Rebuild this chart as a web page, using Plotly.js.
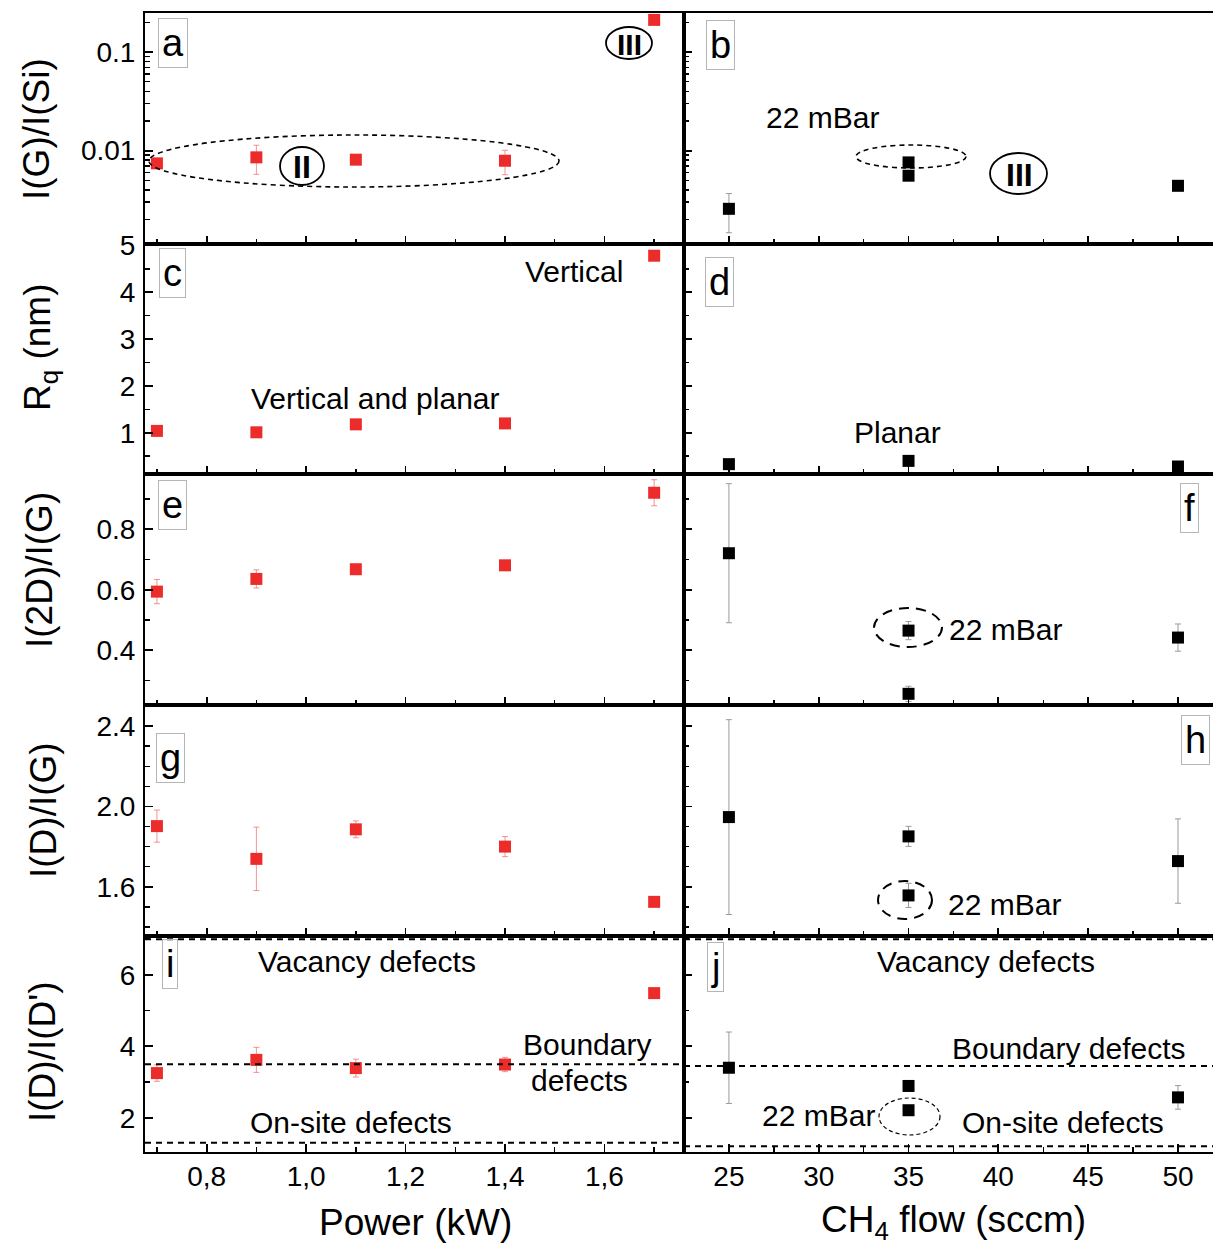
<!DOCTYPE html>
<html><head><meta charset="utf-8">
<script src="https://cdn.plot.ly/plotly-3.0.1.min.js"></script>
<style>html,body{margin:0;padding:0;background:#fff;} #chart{width:1213px;height:1248px;}</style>
</head><body><div id="chart"></div>
<script>
// ---------------- data ----------------
const power = [0.7, 0.9, 1.1, 1.4, 1.7];
const flow = [25, 35, 50];
const flow22 = [35];

// (a) / (b)  I(G)/I(Si)
const igisiPower = [0.00743, 0.00855, 0.0081, 0.0079, 0.212];
const igisiPowerErr = [0, 0.0028, 0, 0.0022, 0];
const igisiFlow = [0.00257, 0.00557, 0.0044];
const igisiFlowErr = [0.0011, 0.0003, 0];
const igisiFlow22 = [0.0076];

// (c) / (d)  Rq (nm)
const rqPower = [1.04, 1.01, 1.18, 1.20, 4.78];
const rqFlow = [0.33, 0.40, 0.28];
const rqFlowErr = [0.05, 0.05, 0.04];

// (e) / (f)  I(2D)/I(G)
const i2dPower = [0.594, 0.636, 0.668, 0.681, 0.921];
const i2dPowerErr = [0.04, 0.03, 0.015, 0.015, 0.043];
const i2dFlow = [0.721, 0.256, 0.442];
const i2dFlowErr = [0.23, 0.025, 0.045];
const i2dFlow22 = [0.465];
const i2dFlow22Err = [0.03];

// (g) / (h)  I(D)/I(G)
const idgPower = [1.902, 1.739, 1.886, 1.80, 1.525];
const idgPowerErr = [0.08, 0.158, 0.042, 0.05, 0.01];
const idgFlow = [1.947, 1.851, 1.728];
const idgFlowErr = [0.485, 0.05, 0.21];
const idgFlow22 = [1.557];
const idgFlow22Err = [0.06];

// (i) / (j)  I(D)/I(D')
const iddPower = [3.25, 3.62, 3.39, 3.49, 5.49];
const iddPowerErr = [0.23, 0.35, 0.25, 0.2, 0.05];
const iddFlow = [3.40, 2.89, 2.57];
const iddFlowErr = [1.0, 0.15, 0.33];
const iddFlow22 = [2.21];
const iddFlow22Err = [0.1];

// defect-type reference levels
const defectLevelsPower = [7.0, 3.5, 1.3];
const defectLevelsFlow = [7.0, 3.45, 1.2];

// tick labels
const powerTickVals = [0.8, 1.0, 1.2, 1.4, 1.6];
const powerTickText = ['0,8', '1,0', '1,2', '1,4', '1,6'];
const flowTickVals = [25, 30, 35, 40, 45, 50];
const flowTickText = ['25', '30', '35', '40', '45', '50'];
const logTickVals = [0.01, 0.1];
const logTickText = ['0.01', '0.1'];
const rqTickVals = [1, 2, 3, 4, 5];
const i2dTickVals = [0.4, 0.6, 0.8];
const idgTickVals = [1.6, 2.0, 2.4];
const iddTickVals = [2, 4, 6];

// ---------------- style ----------------
const FONT = 'Liberation Sans, Arial, Helvetica, sans-serif';
const RED = '#ec2b2b';
const redErr = {color: 'rgba(240,110,110,0.75)', thickness: 1, width: 3};
const blkErr = {color: '#9a9a9a', thickness: 1, width: 3};

const W = 1213, H = 1248, ML = 145, MR = 0, MT = 13, MB = 96;
const PW = W - ML - MR, PH = H - MT - MB;
const px = v => (v - ML) / PW;
const py = v => (H - MB - v) / PH;

const splitX = px(684);
const rowsPx = [[13, 244], [244, 474], [474, 705], [705, 936], [936, 1152]];
const rowDom = rowsPx.map(r => [py(r[1]), py(r[0])]);

function sq(x, y, err, color, ax, eopt) {
  const t = {x: x, y: y, xaxis: 'x' + (ax === 1 ? '' : ax), yaxis: 'y' + (ax === 1 ? '' : ax),
    type: 'scatter', mode: 'markers', showlegend: false, hoverinfo: 'skip',
    marker: {symbol: 'square', size: 12, color: color, line: {width: 0}}};
  if (err) t.error_y = Object.assign({type: 'data', array: err, visible: true}, eopt);
  return t;
}

const data = [
  sq(power, igisiPower, igisiPowerErr, RED, 1, redErr),
  sq(flow, igisiFlow, igisiFlowErr, '#000', 2, blkErr),
  sq(flow22, igisiFlow22, null, '#000', 2),
  sq(power, rqPower, null, RED, 3),
  sq(flow, rqFlow, rqFlowErr, '#000', 4, blkErr),
  sq(power, i2dPower, i2dPowerErr, RED, 5, redErr),
  sq(flow, i2dFlow, i2dFlowErr, '#000', 6, blkErr),
  sq(flow22, i2dFlow22, i2dFlow22Err, '#000', 6, blkErr),
  sq(power, idgPower, idgPowerErr, RED, 7, redErr),
  sq(flow, idgFlow, idgFlowErr, '#000', 8, blkErr),
  sq(flow22, idgFlow22, idgFlow22Err, '#000', 8, blkErr),
  sq(power, iddPower, iddPowerErr, RED, 9, redErr),
  sq(flow, iddFlow, iddFlowErr, '#000', 10, blkErr),
  sq(flow22, iddFlow22, iddFlow22Err, '#000', 10, blkErr)
];

const tickFont = {family: FONT, size: 28, color: '#000'};
function baseAxis() {
  return {showline: true, linewidth: 2, linecolor: '#000', mirror: true, ticks: 'inside',
    ticklen: 8, tickwidth: 1.8, tickcolor: '#000', showgrid: false, zeroline: false,
    tickfont: tickFont, fixedrange: true};
}

const layout = {width: W, height: H, margin: {l: ML, r: MR, t: MT, b: MB},
  paper_bgcolor: '#fff', plot_bgcolor: '#fff', showlegend: false, font: {family: FONT, color: '#000'},
  shapes: [], annotations: []};

const yDefs = [
  {type: 'log', range: [Math.log10(0.00113), Math.log10(0.249)], tickvals: logTickVals, ticktext: logTickText, minorLog: true},
  {range: [0.12, 5.03], tickvals: rqTickVals, ticktext: rqTickVals.map(String), minor: 0.5},
  {range: [0.219, 0.983], tickvals: i2dTickVals, ticktext: i2dTickVals.map(v => v.toFixed(1)), minor: 0.1},
  {range: [1.355, 2.505], tickvals: idgTickVals, ticktext: idgTickVals.map(v => v.toFixed(1)), minor: 0.1},
  {range: [1.04, 7.09], tickvals: iddTickVals, ticktext: iddTickVals.map(String), minor: 1}
];

const logMinor = [];
[0.001, 0.01, 0.1].forEach(d => { for (let m = 2; m <= 9; m++) logMinor.push(d * m); });

for (let r = 0; r < 5; r++) {
  for (let c = 0; c < 2; c++) {
    const k = r * 2 + c + 1;
    const xa = baseAxis();
    xa.domain = c === 0 ? [0, splitX] : [splitX, 1];
    xa.anchor = 'y' + (k === 1 ? '' : k);
    if (c === 0) {
      xa.range = [0.676, 1.760];
      xa.tickmode = 'array'; xa.tickvals = powerTickVals; xa.ticktext = powerTickText;
      xa.minor = {dtick: 0.1, tick0: 0, ticks: 'inside', ticklen: 5, tickwidth: 1.5, tickcolor: '#000'};
    } else {
      xa.range = [22.5, 51.95];
      xa.tickmode = 'array'; xa.tickvals = flowTickVals; xa.ticktext = flowTickText;
      xa.minor = {dtick: 2.5, tick0: 0, ticks: 'inside', ticklen: 5, tickwidth: 1.5, tickcolor: '#000'};
    }
    xa.showticklabels = (r === 4);
    xa.ticklabelstandoff = -2;
    layout['xaxis' + (k === 1 ? '' : k)] = xa;

    const yd = yDefs[r];
    const ya = baseAxis();
    ya.domain = rowDom[r];
    ya.anchor = 'x' + (k === 1 ? '' : k);
    if (yd.type) ya.type = yd.type;
    ya.range = yd.range;
    ya.tickmode = 'array'; ya.tickvals = yd.tickvals; ya.ticktext = yd.ticktext;
    ya.minor = yd.minorLog
      ? {tickmode: 'array', tickvals: logMinor, ticks: 'inside', ticklen: 5, tickwidth: 1.5, tickcolor: '#000'}
      : {dtick: yd.minor, tick0: 0, ticks: 'inside', ticklen: 5, tickwidth: 1.5, tickcolor: '#000'};
    ya.showticklabels = (c === 0);
    ya.ticklabelstandoff = 2;
    layout['yaxis' + (k === 1 ? '' : k)] = ya;
  }
}

// dashed defect-level lines in (i) and (j)
defectLevelsPower.forEach(v => layout.shapes.push({type: 'line', xref: 'x9 domain', yref: 'y9',
  x0: 0, x1: 1, y0: v, y1: v, line: {color: '#000', width: 2, dash: '6px,5px'}}));
defectLevelsFlow.forEach(v => layout.shapes.push({type: 'line', xref: 'x10 domain', yref: 'y10',
  x0: 0, x1: 1, y0: v, y1: v, line: {color: '#000', width: 2, dash: '6px,5px'}}));

// decorative ellipses (paper coords)
function ell(x0, y0, x1, y1, dash, w) {
  layout.shapes.push({type: 'circle', xref: 'paper', yref: 'paper', x0: px(x0), x1: px(x1), y0: py(y1), y1: py(y0),
    line: {color: '#000', width: w || 1.5, dash: dash || 'solid'}});
}
ell(149, 135, 559, 187, '5px,4px', 1.6);
ell(856, 145, 966, 168, '5px,4px', 1.6);
ell(874, 608, 942, 647, '10px,7px', 2);
ell(878, 881, 932, 919, '10px,7px', 2);
ell(879, 1098, 940, 1135, '4px,3px', 1.2);
ell(606, 27, 652, 59, 'solid', 1.8);
ell(280, 147, 324, 185, 'solid', 1.8);
ell(990, 153, 1047, 194, 'solid', 1.8);

function txt(t, x, y, size, opts) {
  layout.annotations.push(Object.assign({text: t, xref: 'paper', yref: 'paper', x: px(x), y: py(y),
    xanchor: 'center', yanchor: 'middle', showarrow: false,
    font: {family: FONT, size: size, color: '#000'}}, opts || {}));
}
// panel letters
const letterBox = {bordercolor: '#b5b5b5', borderwidth: 1, borderpad: 3};
[['a', 173, 43], ['b', 720, 45], ['c', 172, 273], ['d', 719, 282], ['e', 172, 505],
 ['f', 1189, 508], ['g', 170, 758], ['h', 1195, 740], ['i', 170, 964], ['j', 715, 967]]
  .forEach(l => txt(l[0], l[1], l[2], 38, letterBox));

// roman numerals
txt('<b>III</b>', 629, 44, 30);
txt('<b>II</b>', 302, 167, 32);
txt('<b>III</b>', 1019, 175, 32);

// text labels
txt('22 mBar', 822, 118, 30);
txt('Vertical', 574, 272, 30);
txt('Vertical and planar', 375, 399, 30);
txt('Planar', 897, 432, 30);
txt('22 mBar', 1005, 629, 30);
txt('22 mBar', 1004, 904, 30);
txt('Vacancy defects', 367, 962, 30);
txt('Boundary', 587, 1044, 30);
txt('defects', 579, 1080, 30);
txt('On-site defects', 351, 1122, 30);
txt('Vacancy defects', 986, 962, 30);
txt('Boundary defects', 1068, 1048, 30);
txt('22 mBar', 818, 1115, 30);
txt('On-site defects', 1063, 1122, 30);

// axis titles
txt('I(G)/I(Si)', 36, 129, 37, {textangle: -90});
txt('R<sub>q</sub> (nm)', 40, 348, 37, {textangle: -90});
txt('I(2D)/I(G)', 39, 570, 37, {textangle: -90});
txt('I(D)/I(G)', 44, 810, 37, {textangle: -90});
txt("I(D)/I(D')", 42, 1052, 37, {textangle: -90});
txt('Power (kW)', 415, 1222, 37);
txt('CH<sub>4</sub> flow (sccm)', 953, 1222, 37);

Plotly.newPlot('chart', data, layout, {displayModeBar: false, staticPlot: true});
</script>
</body></html>
